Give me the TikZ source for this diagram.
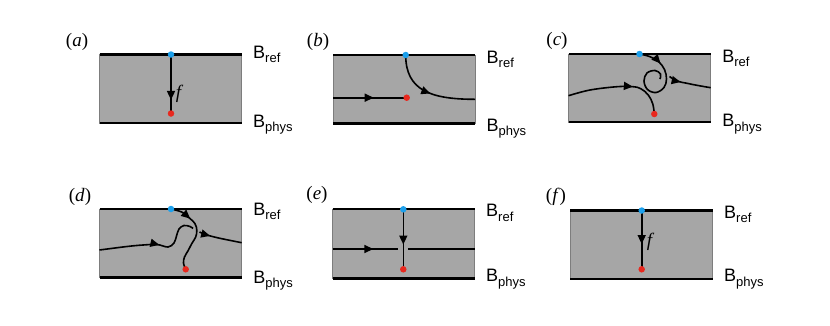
\documentclass[tikz,border=0pt]{standalone}
\usepackage{fontspec}
\newfontfamily\labfont{Liberation Sans}
\newfontfamily\serlab{Liberation Serif}
\usetikzlibrary{arrows.meta,decorations.markings}
\definecolor{bandgray}{RGB}{166,166,166}
\definecolor{edgegray}{RGB}{125,125,125}
\definecolor{dotblue}{RGB}{28,160,236}
\definecolor{dotred}{RGB}{232,40,30}
\tikzset{
  band/.style={fill=bandgray, draw=edgegray, line width=0.5pt},
  bound/.style={line width=2.1pt, black},
  traj/.style={line width=1.6pt, black},
  bdot/.style={circle, fill=dotblue, inner sep=0pt, minimum size=6.5pt},
  rdot/.style={circle, fill=dotred, inner sep=0pt, minimum size=6.5pt},
  midarrow/.style={postaction={decorate}, decoration={markings, mark=at position #1 with {\arrow{Triangle[length=9pt,width=8pt]}}}},
  blab/.style={inner sep=0pt, anchor=base west, font=\labfont},
  plab/.style={inner sep=0pt, font=\serlab\fontsize{19}{22}\selectfont},
}
\newcommand\Bref{{\fontsize{18}{20}\selectfont B}\raisebox{-4.5pt}{\fontsize{13}{14}\selectfont ref}}
\newcommand\Bphys{{\fontsize{18}{20}\selectfont B}\raisebox{-4.5pt}{\fontsize{13}{14}\selectfont phys}}
\newcommand\drawband[7]{%
  \path[band] (#2,#3) rectangle (#4,#5);
  \draw[bound] (#2,#3) -- (#4,#3);
  \draw[bound] (#2,#5) -- (#4,#5);
  \node[blab] (#1ref) at ([shift={(11.5,#6)}]#4,#3) {\Bref};
  \node[blab] (#1phys) at ([shift={(11.5,#7)}]#4,#5) {\Bphys};
}
\begin{document}
\begin{tikzpicture}[x=1pt,y=-1pt]
\useasboundingbox (0,0) rectangle (830,325);

% ---------- (a)
\drawband{a}{99.5}{54.5}{241.5}{123}{3.8}{4.3}
\coordinate (aB) at (171,54.5);
\coordinate (aR) at (171,113.5);
\draw[traj, midarrow=0.77] (aB) -- (aR);
\node[plab] (af) at (179.5,93.5) {\textit{f}};
\node[bdot] (aBd) at (aB) {};
\node[rdot] (aRd) at (aR) {};
\node[plab] (alab) at (77,42) {(\textit{a})};

% ---------- (b)
\drawband{b}{333.3}{55}{475}{123.5}{8.3}{7.7}
\coordinate (bB) at (405.7,55);
\coordinate (bR) at (406.7,97.7);
\coordinate (bL) at (333.3,97.7);
\coordinate (bE) at (475,99.3);
\draw[traj, midarrow=0.55] (bL) -- (bR);
\draw[traj, midarrow=0.52] (bB) .. controls (405.7,90) and (430,99.3) .. (bE);
\node[bdot] (bBd) at (bB) {};
\node[rdot] (bRd) at (bR) {};
\node[plab] (blab) at (318,41.7) {(\textit{b})};

% ---------- (c)
\drawband{c}{568.5}{54}{710.7}{122}{8}{4.7}
\coordinate (cB) at (639.5,54);
\coordinate (cR) at (654.3,114);
\draw[traj, midarrow=0.22] plot[smooth, tension=0.6] coordinates {(cB) (649.5,56.5) (658.5,61.5) (664.5,69.5) (666.5,79) (664,87.5) (656,92.5) (647.5,89.5) (644,81) (647,73) (655,70.5) (660.5,74) (660,79)};
\draw[traj, midarrow=0.29] plot[smooth, tension=0.6] coordinates {(669.5,76.5) (677,81) (687,83.3) (698,85.5) (710.7,87.7)};
\draw[traj, midarrow=0.63] plot[smooth, tension=0.6] coordinates {(568.5,95.7) (590,90) (617,86.7) (633,86.7) (641,88.8) (648.3,95) (652.8,104) (cR)};
\node[bdot] (cBd) at (cB) {};
\node[rdot] (cRd) at (cR) {};
\node[plab] (clab) at (557,41) {(\textit{c})};

% ---------- (d)
\drawband{d}{99.5}{209}{241.7}{277.5}{6}{5.5}
\coordinate (dB) at (171,209);
\coordinate (dR) at (185.7,269.3);
\draw[traj, midarrow=0.56] plot[smooth, tension=0.6] coordinates {(99.5,250) (127,246.5) (143,245) (157,244.5) (168,247) (174,243) (176.5,236) (179,229) (184,225.5) (190,226.5) (193,228.5)};
\draw[traj, midarrow=0.26] plot[smooth, tension=0.6] coordinates {(199.5,232) (207,235) (220,238.3) (241.7,242.7)};
\draw[traj, midarrow=0.28] plot[smooth, tension=0.6] coordinates {(dB) (181.7,212) (188.3,217) (195,223.7) (196.8,230.3) (195.7,237) (191.7,243.7) (188.3,250.3) (184.5,257) (183.5,263) (dR)};
\node[bdot] (dBd) at (dB) {};
\node[rdot] (dRd) at (dR) {};
\node[plab] (dlab) at (80,196.7) {(\textit{d})};

% ---------- (e)
\drawband{e}{332.5}{209.3}{474.5}{278.5}{7.4}{3}
\coordinate (eB) at (403.3,209.3);
\coordinate (eR) at (403.3,269.3);
\coordinate (eL) at (332.5,249);
\coordinate (eG1) at (398.3,249);
\coordinate (eG2) at (408.3,249);
\coordinate (eE) at (474.5,249);
\draw[traj, midarrow=0.62] (eL) -- (eG1);
\draw[traj] (eG2) -- (eE);
\draw[traj, midarrow=0.587] (eB) -- (eR);
\node[bdot] (eBd) at (eB) {};
\node[rdot] (eRd) at (eR) {};
\node[plab] (elab) at (317,195) {(\textit{e})};

% ---------- (f)
\drawband{f}{570}{210.5}{712.5}{278.7}{7.5}{3}
\coordinate (fB) at (641.7,210.5);
\coordinate (fR) at (641.7,269.3);
\draw[traj, midarrow=0.57] (fB) -- (fR);
\node[plab] (ff) at (650.5,242) {\textit{f}};
\node[bdot] (fBd) at (fB) {};
\node[rdot] (fRd) at (fR) {};
\node[plab] (flab) at (556,196.7) {(\textit{f})};
\end{tikzpicture}
\end{document}
